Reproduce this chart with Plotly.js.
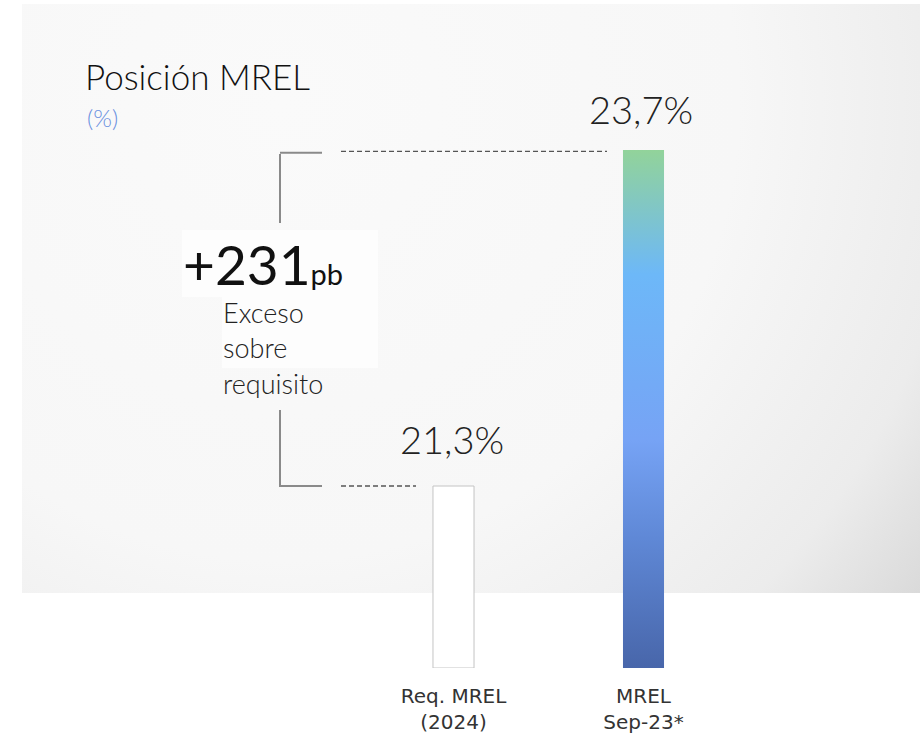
<!DOCTYPE html>
<html>
<head>
<meta charset="utf-8">
<script src="https://cdn.plot.ly/plotly-3.0.1.min.js"></script>
<style>html,body{margin:0;padding:0;background:#fff;}#chart{width:922px;height:740px;}</style>
</head>
<body>
<div id="chart"></div>
<script>
// ---- data ----
const categories = ["Req. MREL<br>(2024)", "MREL<br>Sep-23*"];
const values = [21.3, 23.7];
const valueLabels = ["21,3%", "23,7%"];
const excessBp = "+231";
const excessUnit = "pb";
const excessText = "Exceso<br>sobre<br>requisito";
const titleText = "Posición MREL";
const unitText = "(%)";

// ---- layout helpers ----
const W = 922, H = 740, MB = 72, PH = H - MB;
const BASE = 20;
const X0 = 453.5, XU = 190;          // pixel of category 0, pixels per category
const YU = 140;                        // pixels per percentage point
const BW = 0.216;                      // bar width in category units
const px = x => x / W;
const py = y => (PH - y) / PH;
const xs = [0, 1];

// background panel (gradient) as svg data uri
const bgSvg = "<svg xmlns='http://www.w3.org/2000/svg' width='898' height='589' viewBox='0 0 898 589' preserveAspectRatio='none'>" +
  "<defs><radialGradient id='g' cx='260' cy='100' r='830' gradientUnits='userSpaceOnUse'>" +
  "<stop offset='0' stop-color='#fafafa'/><stop offset='0.55' stop-color='#f7f7f7'/>" +
  "<stop offset='0.82' stop-color='#ececec'/><stop offset='1' stop-color='#d6d6d6'/></radialGradient></defs>" +
  "<rect width='898' height='589' fill='url(#g)'/></svg>";
const bgUri = "data:image/svg+xml;charset=utf-8," + encodeURIComponent(bgSvg);

// bars
const barTrace = {
  type: "bar",
  x: [xs[0]],
  y: [values[0] - BASE],
  base: BASE,
  width: BW,
  marker: { color: "#ffffff", line: { color: "#c4c4c4", width: 1 } },
  hoverinfo: "skip",
  cliponaxis: false
};
// gradient bar (second category) as filled polygon derived from the value
const xi = xs[1], v = values[1];
const gradTrace = {
  type: "scatter",
  mode: "lines",
  x: [xi - BW / 2, xi + BW / 2, xi + BW / 2, xi - BW / 2, xi - BW / 2],
  y: [BASE, BASE, v, v, BASE],
  fill: "toself",
  line: { width: 0, color: "rgba(0,0,0,0)" },
  fillgradient: {
    type: "vertical",
    colorscale: [[0, "#4866aa"], [0.25, "#5f88d6"], [0.44, "#76a3f5"], [0.76, "#6db8f8"], [1, "#92d39a"]]
  },
  hoverinfo: "skip",
  cliponaxis: false
};

const lineGray = { color: "#8a8a8a", width: 2 };
const dashLine = { color: "#555555", width: 1.3, dash: "5px,3px" };

const shapes = [
  // white boxes behind the excess text
  { type: "rect", xref: "paper", yref: "paper", x0: px(182), x1: px(378), y0: py(297), y1: py(230), fillcolor: "#fdfdfd", line: { width: 0 }, layer: "below" },
  { type: "rect", xref: "paper", yref: "paper", x0: px(222), x1: px(378), y0: py(368), y1: py(297), fillcolor: "#fdfdfd", line: { width: 0 }, layer: "below" },
  // bracket top
  { type: "line", xref: "paper", yref: "y", x0: px(280), x1: px(322), y0: values[1] - 0.02, y1: values[1] - 0.02, line: lineGray },
  { type: "line", xref: "paper", yref: "paper", x0: px(280), x1: px(280), y0: py(154), y1: py(223), line: lineGray },
  // bracket bottom
  { type: "line", xref: "paper", yref: "paper", x0: px(280), x1: px(280), y0: py(410), y1: py(486), line: lineGray },
  { type: "line", xref: "paper", yref: "y", x0: px(279), x1: px(322), y0: values[0], y1: values[0], line: lineGray },
  // dashed leaders
  { type: "line", xref: "paper", yref: "y", x0: px(341), x1: px(607), y0: values[1] - 0.01, y1: values[1] - 0.01, line: dashLine },
  { type: "line", xref: "paper", yref: "y", x0: px(341), x1: px(416), y0: values[0], y1: values[0], line: dashLine }
];

const annotations = [
  { text: unitText, xref: "paper", yref: "paper", x: px(85), y: py(117), xanchor: "left", yanchor: "middle", showarrow: false,
    font: { family: "Lato", size: 24, color: "#6a90e0", weight: 300 } },
  { text: valueLabels[0], xref: "x", yref: "y", x: xs[0], y: values[0], xanchor: "center", yanchor: "bottom", yshift: 22, xshift: -2, showarrow: false,
    font: { family: "Lato", size: 38, color: "#222222", weight: 300 } },
  { text: valueLabels[1], xref: "x", yref: "y", x: xs[1], y: values[1], xanchor: "center", yanchor: "bottom", yshift: 16, xshift: -3, showarrow: false,
    font: { family: "Lato", size: 38, color: "#222222", weight: 300 } },
  { text: excessBp + "<span style='font-size:29px'>" + excessUnit + "</span>", xref: "paper", yref: "paper", x: px(181), y: py(264), xanchor: "left", yanchor: "middle", showarrow: false,
    height: 52, valign: "middle",
    font: { family: "Lato", size: 55, color: "#111111", weight: 400 } },
  { text: excessText, xref: "paper", yref: "paper", x: px(221), y: py(348), xanchor: "left", yanchor: "middle", align: "left", showarrow: false,
    height: 100, valign: "middle",
    font: { family: "Lato", size: 27, color: "#222222", weight: 300 } }
];

const layout = {
  width: W, height: H,
  margin: { l: 0, r: 0, t: 0, b: MB, pad: 0 },
  paper_bgcolor: "#ffffff",
  plot_bgcolor: "rgba(0,0,0,0)",
  showlegend: false,
  title: { text: titleText, xref: "container", yref: "container", x: 85 / W, xanchor: "left", y: 1 - 78 / H, yanchor: "middle",
    font: { family: "Lato", size: 35, color: "#111111", weight: 300 } },
  xaxis: {
    range: [-X0 / XU, (W - X0) / XU],
    tickvals: xs, ticktext: categories,
    showgrid: false, zeroline: false, showline: false, ticks: "",
    ticklabelstandoff: 14,
    tickfont: { family: "DejaVu Sans", size: 20, color: "#333333", weight: 400 },
    fixedrange: true
  },
  yaxis: {
    range: [BASE, BASE + PH / YU],
    visible: false, showgrid: false, zeroline: false, fixedrange: true
  },
  images: [{ source: bgUri, xref: "paper", yref: "paper", x: px(22), y: py(4), sizex: 898 / W, sizey: 589 / PH,
    xanchor: "left", yanchor: "top", sizing: "stretch", layer: "below" }],
  shapes: shapes,
  annotations: annotations
};

Plotly.newPlot("chart", [barTrace, gradTrace], layout, { displayModeBar: false, staticPlot: true });
</script>
</body>
</html>
